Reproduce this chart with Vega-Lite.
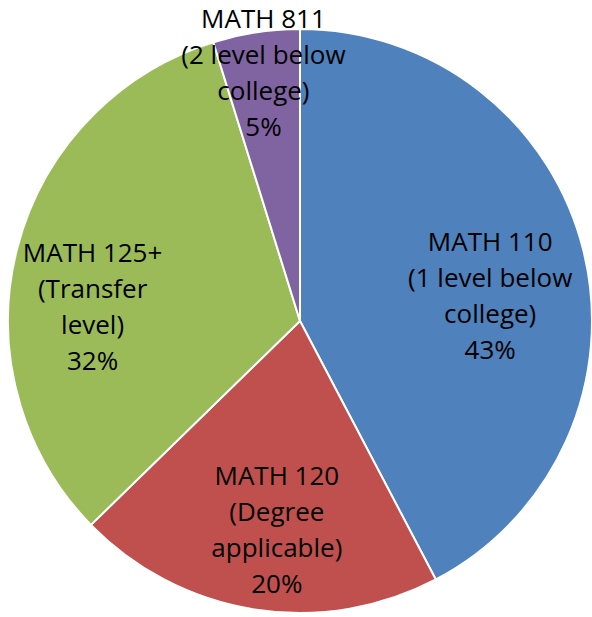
{
  "$schema": "https://vega.github.io/schema/vega-lite/v6.json",
  "width": 584,
  "height": 584,
  "padding": {"left": 8, "top": 29, "right": 0, "bottom": 0},
  "autosize": {"type": "none"},
  "background": "white",
  "config": {"view": {"stroke": null}},
  "data": {
    "values": [
      {"course": "MATH 110", "order": 1, "pct": 42.3, "label": "MATH 110\n(1 level below\ncollege)\n43%"},
      {"course": "MATH 120", "order": 2, "pct": 20.4, "label": "MATH 120\n(Degree\napplicable)\n20%"},
      {"course": "MATH 125+", "order": 3, "pct": 32.5, "label": "MATH 125+\n(Transfer\nlevel)\n32%"},
      {"course": "MATH 811", "order": 4, "pct": 4.8, "label": "MATH 811\n(2 level below\ncollege)\n5%"}
    ]
  },
  "encoding": {
    "theta": {"field": "pct", "type": "quantitative", "stack": true},
    "order": {"field": "order", "type": "quantitative"}
  },
  "layer": [
    {
      "mark": {"type": "arc", "outerRadius": 292, "stroke": "white", "strokeWidth": 2},
      "encoding": {
        "color": {
          "field": "course",
          "type": "nominal",
          "scale": {
            "domain": ["MATH 110", "MATH 120", "MATH 125+", "MATH 811"],
            "range": ["#4F81BD", "#C0504D", "#9BBB59", "#8064A2"]
          },
          "legend": null
        }
      }
    },
    {
      "mark": {"type": "text", "radius": 200, "dx": -4, "dy": -30, "font": "Open Sans", "fontSize": 26, "lineHeight": 36, "lineBreak": "\n", "align": "center", "baseline": "middle", "color": "black"},
      "encoding": {"text": {"condition": {"test": "datum.course === 'MATH 110'", "field": "label"}, "value": ""}}
    },
    {
      "mark": {"type": "text", "radius": 212, "dx": 10, "dy": -53, "font": "Open Sans", "fontSize": 26, "lineHeight": 36, "lineBreak": "\n", "align": "center", "baseline": "middle", "color": "black"},
      "encoding": {"text": {"condition": {"test": "datum.course === 'MATH 120'", "field": "label"}, "value": ""}}
    },
    {
      "mark": {"type": "text", "radius": 215, "dx": 1, "dy": -14, "font": "Open Sans", "fontSize": 26, "lineHeight": 36, "lineBreak": "\n", "align": "center", "baseline": "middle", "color": "black"},
      "encoding": {"text": {"condition": {"test": "datum.course === 'MATH 125+'", "field": "label"}, "value": ""}}
    },
    {
      "mark": {"type": "text", "radius": 250, "dx": 1, "dy": -54, "font": "Open Sans", "fontSize": 26, "lineHeight": 36, "lineBreak": "\n", "align": "center", "baseline": "middle", "color": "black"},
      "encoding": {"text": {"condition": {"test": "datum.course === 'MATH 811'", "field": "label"}, "value": ""}}
    }
  ]
}
